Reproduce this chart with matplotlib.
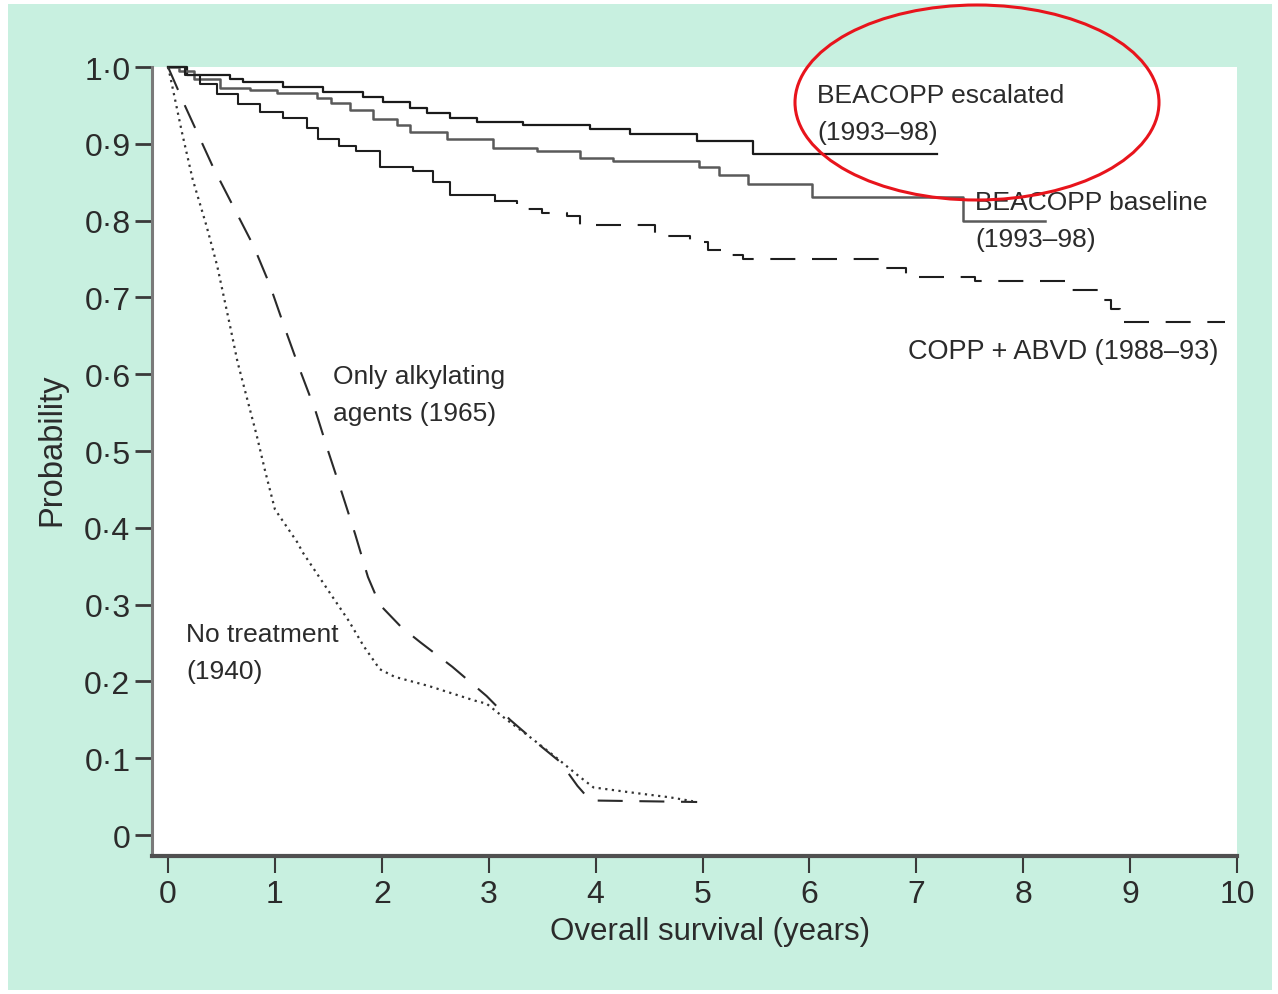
import numpy as np
import matplotlib
matplotlib.use("Agg")
import matplotlib.pyplot as plt
from matplotlib.patches import Ellipse, Rectangle

# ========== DATA ==========
# BEACOPP escalated (1993-98), Kaplan-Meier steps
esc_t = [0, 0.18, 0.58, 0.70, 1.08, 1.45, 1.82, 2.01, 2.26, 2.42,
         2.64, 2.89, 3.32, 3.95, 4.32, 4.95, 5.47, 7.19]
esc_s = [1.0, 0.990, 0.985, 0.980, 0.974, 0.968, 0.961, 0.954, 0.947, 0.940,
         0.934, 0.929, 0.924, 0.919, 0.913, 0.904, 0.887, 0.887]

# BEACOPP baseline (1993-98)
base_t = [0, 0.10, 0.24, 0.49, 0.77, 1.02, 1.39, 1.52, 1.70, 1.92,
          2.14, 2.26, 2.61, 3.04, 3.45, 3.85, 4.16, 4.97, 5.15, 5.43,
          6.02, 7.44, 8.20]
base_s = [1.0, 0.995, 0.985, 0.973, 0.970, 0.966, 0.960, 0.953, 0.944, 0.932,
          0.925, 0.915, 0.906, 0.895, 0.890, 0.882, 0.877, 0.870, 0.859, 0.848,
          0.831, 0.799, 0.799]

# COPP + ABVD (1988-93)
copp_t = [0, 0.16, 0.30, 0.46, 0.65, 0.86, 1.08, 1.30, 1.40, 1.60,
          1.76, 1.98, 2.29, 2.48, 2.64, 3.06, 3.26, 3.50, 3.73, 3.85,
          4.56, 4.88, 5.05, 5.20, 5.38, 6.72, 6.90, 7.55, 8.42, 8.72,
          8.82, 8.91, 9.89]
copp_s = [1.0, 0.990, 0.978, 0.965, 0.952, 0.941, 0.934, 0.920, 0.906, 0.897,
          0.891, 0.870, 0.865, 0.850, 0.833, 0.826, 0.815, 0.810, 0.806, 0.794,
          0.780, 0.772, 0.762, 0.755, 0.750, 0.738, 0.727, 0.721, 0.710, 0.696,
          0.685, 0.668, 0.668]
copp_split = 15  # solid up to here, dashed afterwards

# Only alkylating agents (1965)
alk_t = [0, 0.16, 0.42, 0.80, 0.95, 1.09, 1.23, 1.38, 1.50, 1.63,
         1.75, 1.87, 1.98, 2.18, 2.36, 2.66, 2.98, 3.20, 3.45, 3.67,
         3.83, 3.95, 4.95]
alk_s = [1.0, 0.949, 0.870, 0.767, 0.717, 0.661, 0.607, 0.552, 0.499, 0.444,
         0.392, 0.336, 0.300, 0.271, 0.251, 0.219, 0.181, 0.150, 0.120, 0.095,
         0.064, 0.045, 0.043]

# No treatment (1940)
nt_t = [0, 0.02, 0.13, 0.23, 0.36, 0.46, 0.58, 0.65, 0.74, 0.83,
        0.91, 1.00, 1.21, 1.26, 1.52, 1.69, 1.83, 1.98, 2.12, 2.44,
        2.87, 2.98, 3.16, 3.41, 3.63, 3.84, 3.98, 4.30, 4.70, 4.91]
nt_s = [1.0, 0.988, 0.915, 0.854, 0.793, 0.741, 0.663, 0.616, 0.568, 0.520,
        0.473, 0.424, 0.381, 0.368, 0.314, 0.279, 0.246, 0.216, 0.206, 0.194,
        0.175, 0.171, 0.151, 0.125, 0.101, 0.077, 0.062, 0.056, 0.049, 0.044]

x_ticks = list(range(0, 11))
x_labels = [str(v) for v in x_ticks]
y_ticks = [i / 10 for i in range(0, 11)]
y_labels = ["0", "0·1", "0·2", "0·3", "0·4", "0·5", "0·6", "0·7", "0·8", "0·9", "1·0"]

# ========== STYLE ==========
plt.rcParams['font.family'] = ['Liberation Sans', 'DejaVu Sans']
W, H = 1278, 995
BG = "#c8f0e0"
TXT = "#2b2b2b"

fig = plt.figure(figsize=(W / 100, H / 100), dpi=100)
fig.patch.set_facecolor("white")
fig.add_artist(Rectangle((8 / W, 4 / H), 1264 / W, 986 / H, transform=fig.transFigure,
                         facecolor=BG, edgecolor="none", zorder=-10))

ax = fig.add_axes([152 / W, 1 - 857 / H, 1085 / W, 789 / H])
ax.set_facecolor("white")
ax.set_xlim(-0.15, 10.0)
ax.set_ylim(-0.0273, 1.0)

# curves
ax.step(esc_t, esc_s, where="post", color="#1a1a1a", lw=1.6, clip_on=False)
ax.step(base_t, base_s, where="post", color="#5a5a5a", lw=1.8, clip_on=False)
ax.step(copp_t[:copp_split + 1], copp_s[:copp_split + 1], where="post",
        color="#1e1e1e", lw=1.5, clip_on=False)
ax.step(copp_t[copp_split:], copp_s[copp_split:], where="post",
        color="#1e1e1e", lw=1.5, dashes=(12, 8), clip_on=False)
ax.plot(alk_t, alk_s, color="#2a2a2a", lw=1.5, dashes=(12, 8), clip_on=False)
ax.plot(nt_t, nt_s, color="#333333", lw=1.6, linestyle=(0, (1, 2)), clip_on=False)

# labels on the curves
kw = dict(fontsize=19, color=TXT, ha="left", va="center", linespacing=1.68)
ax.text(6.07, 0.939, "BEACOPP escalated\n(1993–98)", **kw)
ax.text(7.55, 0.800, "BEACOPP baseline\n(1993–98)", **kw)
ax.text(6.92, 0.630, "COPP + ABVD (1988–93)", fontsize=19.5, color=TXT, ha="left", va="center")
ax.text(1.54, 0.574, "Only alkylating\nagents (1965)", **kw)
ax.text(0.17, 0.238, "No treatment\n(1940)", **kw)

# axes
for s in ["top", "right"]:
    ax.spines[s].set_visible(False)
ax.spines["left"].set_color("#7a7a7a")
ax.spines["left"].set_linewidth(2.2)
ax.spines["bottom"].set_color("#505050")
ax.spines["bottom"].set_linewidth(3)

ax.set_xticks(x_ticks)
ax.set_xticklabels(x_labels)
ax.set_yticks(y_ticks)
ax.set_yticklabels(y_labels)
ax.tick_params(axis="y", direction="out", length=12, width=2, pad=3.5,
               labelsize=23, color="#3a3a3a", labelcolor=TXT)
ax.tick_params(axis="x", direction="out", length=12, width=1.5, pad=4.5,
               labelsize=23, color="#3a3a3a", labelcolor=TXT)

fig.text(710 / W, 1 - 932 / H, "Overall survival (years)", fontsize=22.5,
         color=TXT, ha="center", va="center")
fig.text(52 / W, 1 - 450 / H, "Probability", fontsize=23.5, color=TXT,
         ha="center", va="center", rotation=90)

# red highlight ellipse
fig.add_artist(Ellipse((977 / W, 1 - 103.5 / H), 364 / W, 195 / H, transform=fig.transFigure,
                       facecolor="none", edgecolor="#e8141c", lw=2.2, zorder=10))

fig.savefig("out.png", dpi=100)
